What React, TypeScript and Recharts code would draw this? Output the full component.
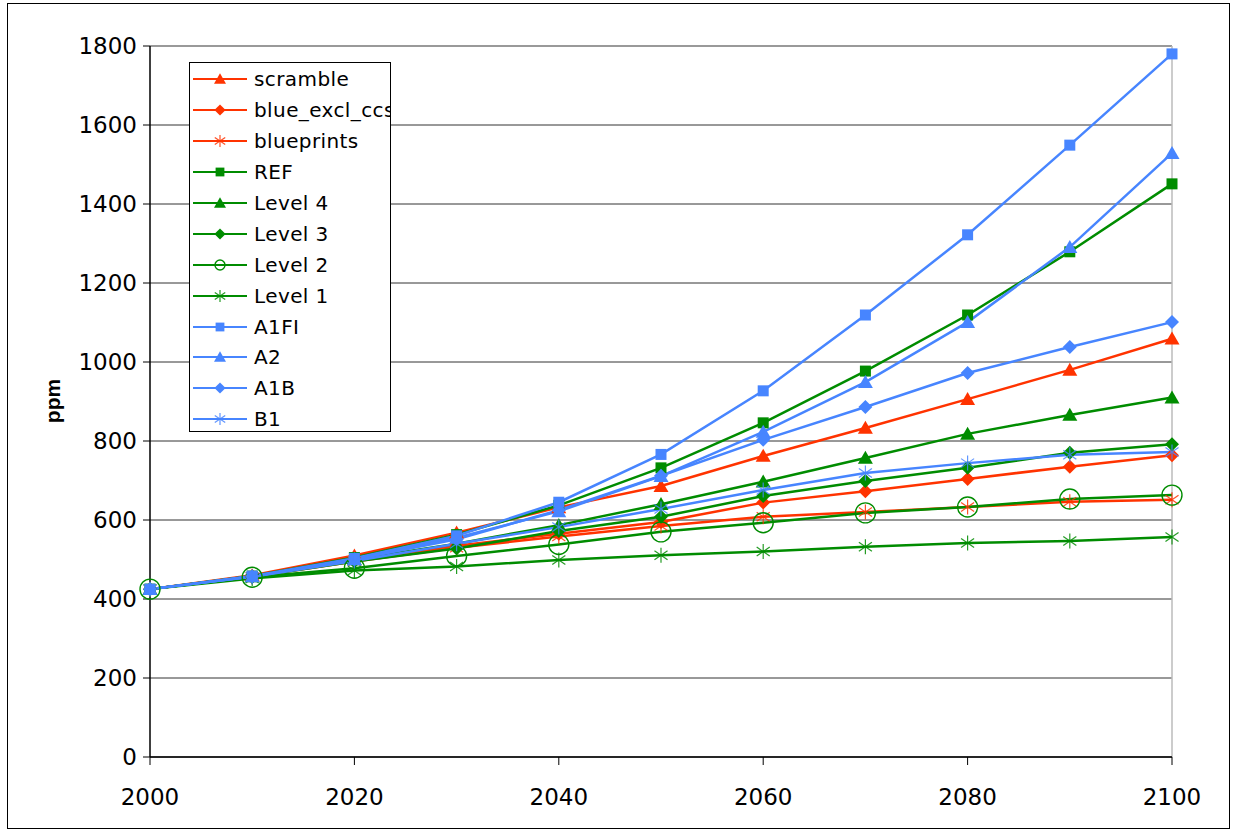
import React from "react";
import {
  LineChart,
  Line,
  XAxis,
  YAxis,
  CartesianGrid,
  ReferenceLine,
} from "recharts";

const YEARS = [2000, 2010, 2020, 2030, 2040, 2050, 2060, 2070, 2080, 2090, 2100];

const SCRAMBLE = [425, 460, 510, 568, 632, 686, 762, 833, 906, 980, 1059];
const BLUE_EXCL_CCS = [425, 457, 497, 535, 565, 595, 644, 673, 704, 735, 764];
const BLUEPRINTS = [425, 456, 495, 530, 558, 585, 608, 620, 633, 646, 651];
const REF = [425, 458, 505, 563, 637, 732, 846, 977, 1119, 1279, 1451];
const LEVEL_4 = [425, 457, 500, 540, 587, 640, 697, 757, 818, 866, 910];
const LEVEL_3 = [425, 456, 495, 528, 572, 608, 661, 699, 732, 770, 792];
const LEVEL_2 = [425, 455, 478, 509, 538, 570, 593, 618, 633, 653, 663];
const LEVEL_1 = [425, 452, 472, 482, 499, 511, 520, 532, 542, 547, 557];
const A1FI = [425, 458, 503, 560, 645, 766, 927, 1119, 1322, 1549, 1780];
const A2 = [425, 457, 500, 555, 622, 711, 823, 949, 1101, 1291, 1529];
const A1B = [425, 457, 500, 551, 625, 712, 803, 886, 972, 1038, 1101];
const B1 = [425, 456, 496, 540, 582, 628, 676, 719, 744, 765, 772];

const Y_TICKS = [0, 200, 400, 600, 800, 1000, 1200, 1400, 1600, 1800];
const X_TICKS = [2000, 2020, 2040, 2060, 2080, 2100];

const RED = "#ff3300";
const GREEN = "#008c00";
const BLUE = "#4785ff";

type Shape = "triangle" | "diamond" | "star" | "square" | "circle";

const SERIES: { key: string; name: string; color: string; shape: Shape; values: number[] }[] = [
  { key: "scramble", name: "scramble", color: RED, shape: "triangle", values: SCRAMBLE },
  { key: "blueExcl", name: "blue_excl_ccs", color: RED, shape: "diamond", values: BLUE_EXCL_CCS },
  { key: "blueprints", name: "blueprints", color: RED, shape: "star", values: BLUEPRINTS },
  { key: "ref", name: "REF", color: GREEN, shape: "square", values: REF },
  { key: "level4", name: "Level 4", color: GREEN, shape: "triangle", values: LEVEL_4 },
  { key: "level3", name: "Level 3", color: GREEN, shape: "diamond", values: LEVEL_3 },
  { key: "level2", name: "Level 2", color: GREEN, shape: "circle", values: LEVEL_2 },
  { key: "level1", name: "Level 1", color: GREEN, shape: "star", values: LEVEL_1 },
  { key: "a1fi", name: "A1FI", color: BLUE, shape: "square", values: A1FI },
  { key: "a2", name: "A2", color: BLUE, shape: "triangle", values: A2 },
  { key: "a1b", name: "A1B", color: BLUE, shape: "diamond", values: A1B },
  { key: "b1", name: "B1", color: BLUE, shape: "star", values: B1 },
];

const data = YEARS.map((year, i) => {
  const row: Record<string, number> = { year };
  SERIES.forEach((s) => {
    row[s.key] = s.values[i];
  });
  return row;
});

const FONT = "'DejaVu Sans', Verdana, sans-serif";

function Marker({ cx, cy, shape, color, scale = 1 }: { cx: number; cy: number; shape: Shape; color: string; scale?: number }) {
  const s = scale;
  switch (shape) {
    case "triangle": {
      const w = 7.5 * s;
      const h = 13 * s;
      return <polygon points={`${cx},${cy - h * 0.55} ${cx + w},${cy + h * 0.45} ${cx - w},${cy + h * 0.45}`} fill={color} />;
    }
    case "diamond": {
      const r = 7 * s;
      return <polygon points={`${cx},${cy - r} ${cx + r},${cy} ${cx},${cy + r} ${cx - r},${cy}`} fill={color} />;
    }
    case "square": {
      const r = 5.5 * s;
      return <rect x={cx - r} y={cy - r} width={2 * r} height={2 * r} fill={color} />;
    }
    case "circle":
      return <circle cx={cx} cy={cy} r={10 * s} fill="none" stroke={color} strokeWidth={1.4} />;
    case "star": {
      const r = 7.5 * s;
      const d = r * 0.87;
      return (
        <g stroke={color} strokeWidth={1.2} opacity={0.85}>
          <line x1={cx} y1={cy - r} x2={cx} y2={cy + r} />
          <line x1={cx - d} y1={cy - r * 0.6} x2={cx + d} y2={cy + r * 0.6} />
          <line x1={cx - d} y1={cy + r * 0.6} x2={cx + d} y2={cy - r * 0.6} />
        </g>
      );
    }
  }
  return null;
}

// legend drawn as a plain box over the plot, like the spreadsheet original
function LegendBox() {
  return (
    <div
      style={{
        position: "absolute",
        left: 189,
        top: 62,
        width: 202,
        height: 370,
        boxSizing: "border-box",
        border: "1px solid #000",
        background: "#fff",
        overflow: "hidden",
        paddingTop: 1,
        fontFamily: FONT,
        fontSize: 20,
        letterSpacing: 0.4,
        color: "#000",
      }}
    >
      {SERIES.map((s) => (
        <div key={s.key} style={{ height: 30.9, display: "flex", alignItems: "center", whiteSpace: "nowrap" }}>
          <svg width={64} height={30} style={{ flex: "none" }}>
            <line x1={3} y1={15} x2={57} y2={15} stroke={s.color} strokeWidth={2.2} />
            <Marker cx={30} cy={15} shape={s.shape} color={s.color} scale={s.shape === "circle" ? 0.5 : 0.8} />
          </svg>
          <span style={{ lineHeight: "30px" }}>{s.name}</span>
        </div>
      ))}
    </div>
  );
}

export default function App() {
  return (
    <div style={{ position: "absolute", left: 0, top: 0, width: 1233, height: 832, background: "#fff" }}>
      <div
        style={{
          position: "absolute",
          left: 7,
          top: 3,
          width: 1223,
          height: 826,
          boxSizing: "border-box",
          border: "1px solid #000",
        }}
      />
      <div style={{ position: "absolute", left: 0, top: 0 }}>
        <LineChart width={1233} height={832} data={data} margin={{ top: 46, right: 61, bottom: 35, left: 70 }}>
          <CartesianGrid horizontal vertical={false} stroke="#333" strokeWidth={1} />
          <XAxis
            dataKey="year"
            type="number"
            domain={[2000, 2100]}
            ticks={X_TICKS}
            height={40}
            tickSize={8}
            tickMargin={24}
            axisLine={{ stroke: "#000", strokeWidth: 1.5 }}
            tickLine={{ stroke: "#000" }}
            tick={{ fill: "#000", fontSize: 23, fontFamily: FONT }}
            interval={0}
          />
          <YAxis
            type="number"
            domain={[0, 1800]}
            ticks={Y_TICKS}
            width={80}
            tickSize={7}
            tickMargin={6}
            axisLine={{ stroke: "#000", strokeWidth: 1.5 }}
            tickLine={{ stroke: "#000" }}
            tick={{ fill: "#000", fontSize: 23, fontFamily: FONT }}
            interval={0}
            label={{
              content: () => (
                <text
                  x={52}
                  y={401}
                  transform="rotate(-90 52 401)"
                  textAnchor="middle"
                  dominantBaseline="central"
                  fontFamily="'Liberation Sans', Arial, sans-serif"
                  fontWeight="bold"
                  fontSize={21}
                  fill="#000"
                >
                  ppm
                </text>
              ),
            }}
          />
          <ReferenceLine y={1800} stroke="#999" strokeWidth={1} />
          <ReferenceLine x={2100} stroke="#bbb" strokeWidth={1.5} />
          {SERIES.map((s) => (
            <Line
              key={s.key}
              dataKey={s.key}
              name={s.name}
              stroke={s.color}
              strokeWidth={2.5}
              isAnimationActive={false}
              activeDot={false}
              dot={(p: { cx?: number; cy?: number; index?: number }) => (
                <Marker key={`${s.key}-${p.index}`} cx={p.cx ?? 0} cy={p.cy ?? 0} shape={s.shape} color={s.color} />
              )}
            />
          ))}
        </LineChart>
      </div>
      <LegendBox />
    </div>
  );
}
